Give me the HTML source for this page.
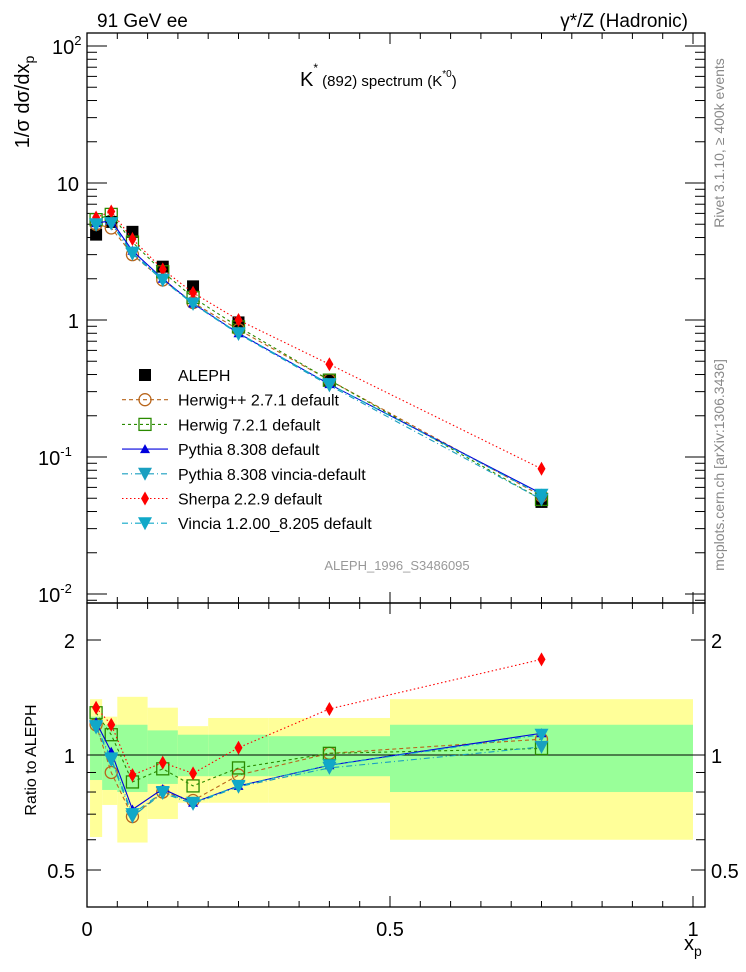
<!DOCTYPE html>
<html><head><meta charset="utf-8">
<style>
html,body{margin:0;padding:0;background:#fff;}
svg{display:block;font-family:"Liberation Sans",Arial,sans-serif;}
</style></head>
<body>
<svg id="chart" width="746" height="972" viewBox="0 0 746 972" xmlns="http://www.w3.org/2000/svg">
<g id="bands"></g>
<g id="axes"></g>
<g id="series"></g>
<g id="legend"></g>
<text x="97" y="27" font-size="19">91 GeV ee</text>
<text x="688" y="27" font-size="19" text-anchor="end">γ*/Z (Hadronic)</text>
<text x="300" y="86" font-size="20">K<tspan font-size="12" dy="-14">*</tspan><tspan font-size="15" dy="14"> (892) spectrum (K</tspan><tspan font-size="10" dy="-9">*0</tspan><tspan font-size="15" dy="9">)</tspan></text>
<text x="397" y="570" font-size="13" fill="#999" text-anchor="middle">ALEPH_1996_S3486095</text>
<text transform="translate(724,143) rotate(-90)" font-size="14" fill="#888" text-anchor="middle">Rivet 3.1.10, ≥ 400k events</text>
<text transform="translate(724,465) rotate(-90)" font-size="14" fill="#888" text-anchor="middle">mcplots.cern.ch [arXiv:1306.3436]</text>
<text transform="translate(29,102) rotate(-90)" font-size="20" text-anchor="middle">1/σ dσ/dx<tspan font-size="14" dy="5">p</tspan></text>
<text transform="translate(36,760) rotate(-90)" font-size="16" text-anchor="middle">Ratio to ALEPH</text>
<text x="684" y="950" font-size="20">x<tspan font-size="14" dy="6">p</tspan></text>
</svg>
<script>
const xPoints = [0.015, 0.04, 0.075, 0.125, 0.175, 0.25, 0.4, 0.75];
const binEdges = [0.005, 0.025, 0.05, 0.1, 0.15, 0.2, 0.3, 0.5, 1.0];
const yellowHi = [1.40, 1.26, 1.42, 1.33, 1.19, 1.25, 1.25, 1.40];
const yellowLo = [0.61, 0.74, 0.59, 0.68, 0.75, 0.75, 0.75, 0.60];
const greenHi = [1.26, 1.20, 1.20, 1.16, 1.13, 1.13, 1.12, 1.20];
const greenLo = [0.86, 0.81, 0.80, 0.84, 0.88, 0.88, 0.88, 0.80];
const aleph = [4.2, 5.2, 4.4, 2.45, 1.76, 0.96, 0.36, 0.047];
const herwigpp = [5.0, 4.7, 3.0, 1.96, 1.34, 0.85, 0.364, 0.052];
const herwig7 = [5.4, 5.9, 3.7, 2.25, 1.46, 0.89, 0.364, 0.049];
const pythia = [5.1, 5.3, 3.2, 2.0, 1.32, 0.80, 0.34, 0.054];
const pyvincia = [4.95, 5.05, 3.04, 1.95, 1.31, 0.79, 0.333, 0.049];
const sherpa = [5.6, 6.2, 3.9, 2.34, 1.58, 1.0, 0.475, 0.082];
const vincia = [5.0, 5.1, 3.1, 1.97, 1.32, 0.80, 0.34, 0.053];
const rHerwigpp = [1.20, 0.90, 0.69, 0.80, 0.76, 0.886, 1.01, 1.10];
const rHerwig7 = [1.29, 1.13, 0.85, 0.92, 0.83, 0.925, 1.01, 1.04];
const rPythia = [1.22, 1.02, 0.72, 0.815, 0.75, 0.83, 0.94, 1.14];
const rPyvincia = [1.18, 0.97, 0.69, 0.795, 0.745, 0.826, 0.925, 1.05];
const rSherpa = [1.33, 1.20, 0.886, 0.955, 0.895, 1.045, 1.32, 1.78];
const rVincia = [1.19, 0.98, 0.70, 0.80, 0.75, 0.83, 0.94, 1.13];
const mainTicks = ["10", "1", "10^-1"];
const ratioTicks = ["2", "1", "0.5"];
const xTickLabels = ["0", "0.5", "1"];

const NS = "http://www.w3.org/2000/svg";
const L = 87, R = 705, T = 33, MB = 603, RB = 907;
function X(v){ return 87 + v * 606; }
function Y(v){ return 320 - Math.log10(v) * 137; }
function RY(v){ return 755 - Math.log10(v) * 382; }
function mk(tag, attrs, parent){
  const e = document.createElementNS(NS, tag);
  for (const k in attrs) e.setAttribute(k, attrs[k]);
  parent.appendChild(e); return e;
}
const bands = document.getElementById('bands');
const axes = document.getElementById('axes');
const series = document.getElementById('series');
const legend = document.getElementById('legend');

// bands
for (let i = 0; i < yellowHi.length; i++) {
  const y = mk('rect', {x: X(binEdges[i]), y: RY(yellowHi[i]), width: X(binEdges[i+1]) - X(binEdges[i]), height: RY(yellowLo[i]) - RY(yellowHi[i]), fill: '#ffff99'}, bands);
  
  
  const g = mk('rect', {x: X(binEdges[i]), y: RY(greenHi[i]), width: X(binEdges[i+1]) - X(binEdges[i]), height: RY(greenLo[i]) - RY(greenHi[i]), fill: '#99ff99'}, bands);
  
  
}
const one = mk('line', {x1: L, x2: R, y1: RY(1), y2: RY(1), stroke: '#000', 'stroke-width': 1}, bands);



// frames
const f1 = mk('rect', {x: L, y: T, width: R - L, height: MB - T, fill: 'none', stroke: '#000', 'stroke-width': 1.3}, axes);


const f2 = mk('rect', {x: L, y: MB, width: R - L, height: RB - MB, fill: 'none', stroke: '#000', 'stroke-width': 1.3}, axes);



// main y log ticks
for (let e = -3; e <= 2; e++) {
  for (let m = 1; m <= 9; m++) {
    const v = m * Math.pow(10, e); const y = Y(v);
    if (y < T || y > MB) continue;
    const len = m === 1 ? 20 : 10;
    mk('line', {x1: L, x2: L + len, y1: y, y2: y, stroke: '#000'}, axes);
    mk('line', {x1: R, x2: R - len, y1: y, y2: y, stroke: '#000'}, axes);
  }
}
function tickLabel(txt, x, y, anchor, size, parent){
  let t;
  if (txt.indexOf('^') >= 0) {
    const [b, p] = txt.split('^');
    t = mk('text', {x: x, y: y, 'font-size': size, 'text-anchor': anchor}, parent);
    t.textContent = b;
    const ts = mk('tspan', {dy: -9, 'font-size': size * 0.65}, t); ts.textContent = p;
  } else {
    t = mk('text', {x: x, y: y, 'font-size': size, 'text-anchor': anchor}, parent);
    t.textContent = txt;
  }
  return t;
}
[["10^2",100],["10",10],["1",1],["10^-1",0.1],["10^-2",0.01]].forEach(([s,v])=>{
  const t = tickLabel(s, s.indexOf('^')>=0 ? 50 : 79, Y(v) + 8, s.indexOf('^')>=0 ? 'start' : 'end', 20, axes);
  if (s==="10^-1"||s==="10^-2") { t.setAttribute('x', 38); }
  if (s==="10^2") { t.setAttribute('x', 52); }
  
  
});
// ratio ticks
for (let e = -1; e <= 0; e++) {
  for (let m = 1; m <= 9; m++) {
    const v = m * Math.pow(10, e); const y = RY(v);
    if (y < MB || y > RB) continue;
    const major = (v === 1 || v === 2 || v === 0.5);
    const len = major ? 14 : 9;
    mk('line', {x1: L, x2: L + len, y1: y, y2: y, stroke: '#000'}, axes);
    mk('line', {x1: R, x2: R - len, y1: y, y2: y, stroke: '#000'}, axes);
  }
}
[["2",2],["1",1],["0.5",0.5]].forEach(([s,v])=>{
  const t = tickLabel(s, 75, RY(v) + 8, 'end', 20, axes);
  
  
  const t2 = tickLabel(s, 711, RY(v) + 8, 'start', 20, axes);
  
  
});
// x ticks
for (let i = 0; i <= 20; i++) {
  const v = i * 0.05; const x = X(v); const major = i % 10 === 0;
  const len = major ? 11 : 6;
  mk('line', {x1: x, x2: x, y1: RB, y2: RB - len, stroke: '#000'}, axes);
  mk('line', {x1: x, x2: x, y1: MB, y2: MB - len, stroke: '#000'}, axes);
  mk('line', {x1: x, x2: x, y1: MB, y2: MB + len, stroke: '#000'}, axes);
  mk('line', {x1: x, x2: x, y1: T, y2: T + len, stroke: '#000'}, axes);
}
[["0",0],["0.5",0.5],["1",1]].forEach(([s,v])=>{
  const t = tickLabel(s, X(v), 936, 'middle', 20, axes);
  
  
});

// markers
function marker(type, x, y, color, parent){
  let e;
  if (type === 'square') e = mk('rect', {x: x-6, y: y-6, width: 12, height: 12, fill: '#000'}, parent);
  else if (type === 'circle') e = mk('circle', {cx: x, cy: y, r: 6, fill: 'none', stroke: color, 'stroke-width': 1.3}, parent);
  else if (type === 'osquare') e = mk('rect', {x: x-6, y: y-6, width: 12, height: 12, fill: 'none', stroke: color, 'stroke-width': 1.3}, parent);
  else if (type === 'tri') e = mk('path', {d: `M${x},${y-5} L${x+5},${y+4} L${x-5},${y+4}Z`, fill: color}, parent);
  else if (type === 'dtri') e = mk('path', {d: `M${x-7},${y-6} L${x+7},${y-6} L${x},${y+7}Z`, fill: color}, parent);
  else if (type === 'diamond') e = mk('path', {d: `M${x},${y-7} L${x+4},${y} L${x},${y+7} L${x-4},${y}Z`, fill: color}, parent);
  return e;
}
const defs = [
  {name:'herwigpp', label:'Herwig++ 2.7.1 default', main: herwigpp, ratio: rHerwigpp, color:'#b8651b', dash:'4,3', m:'circle'},
  {name:'herwig7', label:'Herwig 7.2.1 default', main: herwig7, ratio: rHerwig7, color:'#2a8a00', dash:'3,3', m:'osquare'},
  {name:'pythia', label:'Pythia 8.308 default', main: pythia, ratio: rPythia, color:'#0000dd', dash:'', m:'tri'},
  {name:'pythia-vincia', label:'Pythia 8.308 vincia-default', main: pyvincia, ratio: rPyvincia, color:'#1a9fc0', dash:'6,3,1,3', m:'dtri'},
  {name:'sherpa', label:'Sherpa 2.2.9 default', main: sherpa, ratio: rSherpa, color:'#ff0000', dash:'1.5,2.5', m:'diamond'},
  {name:'vincia', label:'Vincia 1.2.00_8.205 default', main: vincia, ratio: rVincia, color:'#10a8c8', dash:'6,3,1,3', m:'dtri'}
];
// ALEPH main
aleph.forEach((v,i)=>{
  const e = marker('square', X(xPoints[i]), Y(v), '#000', series);
  
  
});
defs.forEach(d=>{
  const pm = d.main.map((v,i)=>`${X(xPoints[i])},${Y(v)}`).join(' ');
  const l1 = mk('polyline', {points: pm, fill:'none', stroke:d.color, 'stroke-width':1.1, 'stroke-dasharray': d.dash}, series);
  
  
  const pr = d.ratio.map((v,i)=>`${X(xPoints[i])},${RY(v)}`).join(' ');
  const l2 = mk('polyline', {points: pr, fill:'none', stroke:d.color, 'stroke-width':1.1, 'stroke-dasharray': d.dash}, series);
  
  
  d.main.forEach((v,i)=>{
    const e = marker(d.m, X(xPoints[i]), Y(v), d.color, series);
    
    
  });
  d.ratio.forEach((v,i)=>{
    const e = marker(d.m, X(xPoints[i]), RY(v), d.color, series);
    
    
  });
});
// legend
const ly0 = 375, ldy = 24.7;
const alegM = marker('square', 145, ly0, '#000', legend);


const at = mk('text', {x: 178, y: ly0 + 6, 'font-size': 16}, legend);
at.textContent = 'ALEPH';


defs.forEach((d,i)=>{
  const y = ly0 + (i+1)*ldy;
  const ln = mk('line', {x1: 122, x2: 168, y1: y, y2: y, stroke: d.color, 'stroke-width': 1.1, 'stroke-dasharray': d.dash}, legend);
  
  
  const e = marker(d.m, 145, y, d.color, legend);
  
  
  const t = mk('text', {x: 178, y: y + 6, 'font-size': 16}, legend);
  t.textContent = d.label;
  
  
});
</script>
</body></html>
